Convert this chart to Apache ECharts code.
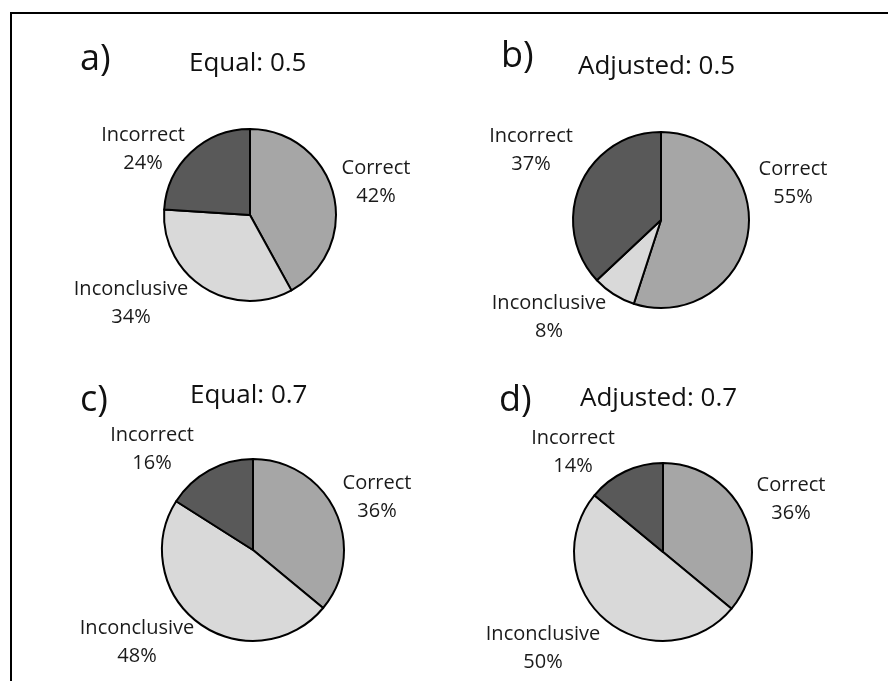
<!DOCTYPE html>
<html>
<head>
<meta charset="utf-8">
<script src="https://cdn.jsdelivr.net/npm/echarts@6/dist/echarts.min.js"></script>
<style>
html,body{margin:0;padding:0;background:#fff;}
#chart{width:888px;height:681px;}
</style>
</head>
<body>
<div id="chart"></div>
<script>
// ---- data ----
const categories = ['Correct', 'Inconclusive', 'Incorrect'];
const panelLetters = ['a)', 'b)', 'c)', 'd)'];
const panelTitles = ['Equal: 0.5', 'Adjusted: 0.5', 'Equal: 0.7', 'Adjusted: 0.7'];
const valuesA = [42, 34, 24];
const valuesB = [55, 8, 37];
const valuesC = [36, 48, 16];
const valuesD = [36, 50, 14];
const panelValues = [valuesA, valuesB, valuesC, valuesD];

// ---- layout (positions / styles) ----
const sliceColors = ['#a6a6a6', '#d9d9d9', '#595959'];
const pieCenters = [[250, 215], [661, 220], [253, 550], [663, 552]];
const pieRadii = [86, 88, 91, 89];
// label block centre offsets relative to pie centre, per slice
const labelOffsets = [
  [[126, -33], [-119, 88], [-107, -66]],
  [[132, -37], [-112, 97], [-130, -70]],
  [[124, -53], [-116, 92], [-101, -101]],
  [[128, -53], [-120, 96], [-90, -100]]
];
const letterPos = [[80, 42], [501, 39], [80, 383], [499, 383]];
const titlePos = [[189, 51], [578, 54], [190, 383], [580, 386]];

const font = '"Open Sans", "Liberation Sans", sans-serif';

const chart = echarts.init(document.getElementById('chart'), null, {renderer: 'canvas'});

const titles = [];
panelLetters.forEach((t, i) => {
  titles.push({
    text: t, left: letterPos[i][0], top: letterPos[i][1], padding: 0,
    textStyle: {fontFamily: font, fontSize: 36, fontWeight: 'normal', color: '#111'}
  });
  titles.push({
    text: panelTitles[i], left: titlePos[i][0], top: titlePos[i][1], padding: 0,
    textStyle: {fontFamily: font, fontSize: 26, fontWeight: 'normal', color: '#111'}
  });
});

const series = panelValues.map((vals, p) => ({
  type: 'pie',
  center: pieCenters[p],
  radius: pieRadii[p],
  startAngle: 90,
  clockwise: true,
  avoidLabelOverlap: false,
  silent: true,
  data: categories.map((c, k) => ({
    name: c, value: vals[k],
    itemStyle: {color: sliceColors[k]}
  })),
  itemStyle: {borderColor: '#000', borderWidth: 2},
  label: {
    show: true,
    position: 'outside',
    formatter: '{b}\n{c}%',
    fontFamily: font,
    fontSize: 20,
    lineHeight: 28,
    color: '#1a1a1a',
    align: 'center'
  },
  labelLine: {show: false},
  labelLayout: (params) => {
    const off = labelOffsets[p][params.dataIndex];
    return {
      x: pieCenters[p][0] + off[0],
      y: pieCenters[p][1] + off[1],
      align: 'center',
      verticalAlign: 'middle'
    };
  }
}));

chart.setOption({
  animation: false,
  backgroundColor: '#fff',
  title: titles,
  graphic: [{
    type: 'polyline',
    shape: {points: [[11, 681], [11, 13], [888, 13]]},
    style: {stroke: '#000', lineWidth: 2, fill: null}
  }],
  series: series
});
</script>
</body>
</html>
